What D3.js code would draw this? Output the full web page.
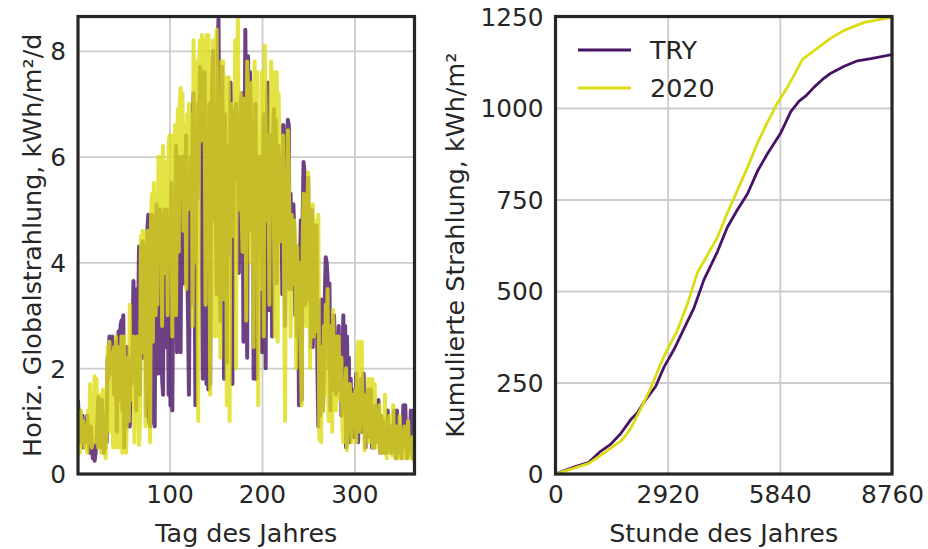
<!DOCTYPE html>
<html><head><meta charset="utf-8">
<script src="https://cdn.jsdelivr.net/npm/d3@7"></script>
<style>html,body{margin:0;padding:0;background:#fff;} svg{display:block;font-family:"DejaVu Sans",sans-serif;}</style>
</head><body><svg id="chart" width="928" height="549"></svg>
<script>
// ---- data ----
const seriesNames = ["TRY", "2020"];
const dailyTRY = [
1.4,0.9,1.2,0.6,0.8,1.1,0.5,1.0,0.7,0.6,
1.1,0.8,0.5,0.4,0.9,0.6,0.3,0.5,0.25,0.4,
0.6,1.0,1.45,1.2,0.5,0.8,1.4,0.9,0.4,0.5,
1.1,0.6,2.2,1.8,2.6,2.5,1.9,2.6,2.4,1.5,
2.5,2.0,0.8,2.5,2.7,1.4,2.8,2.9,1.2,3.0,
0.5,1.8,1.2,2.4,0.9,1.6,0.9,2.2,1.7,2.6,
3.65,2.0,3.4,1.2,3.5,2.8,4.3,1.5,3.9,4.3,
4.4,2.2,4.3,3.0,1.1,4.6,4.9,1.0,0.9,4.2,
4.9,3.8,1.0,0.9,4.5,5.1,2.2,1.9,4.6,5.0,
3.4,1.8,1.5,4.8,5.0,2.4,5.0,4.2,1.5,4.6,
1.3,5.5,1.2,3.8,5.2,3.9,6.2,2.3,5.8,6.0,
4.5,2.3,5.5,6.0,4.6,3.6,5.4,6.4,4.3,3.0,
1.5,4.3,6.0,3.2,6.8,7.2,4.4,1.3,6.0,5.2,
7.0,6.5,7.7,7.6,4.1,1.8,7.2,7.6,5.5,1.7,
6.3,1.6,7.0,1.7,5.9,7.3,8.0,4.8,6.9,5.0,
3.4,8.0,8.6,4.9,2.9,6.6,7.7,5.2,1.8,6.8,
5.5,2.1,6.2,5.5,4.2,7.4,6.0,1.7,4.4,6.9,
5.6,7.0,5.7,6.5,3.8,5.8,7.0,7.2,6.1,2.5,
5.0,8.4,6.1,2.2,7.9,4.6,7.6,6.8,4.6,5.9,
1.8,6.2,7.0,1.8,5.5,6.0,4.2,6.0,5.0,2.3,
5.7,6.8,5.7,2.0,6.5,7.4,5.2,3.1,6.4,5.5,
2.6,6.3,6.9,4.8,6.7,3.6,5.5,6.2,4.4,6.0,
5.5,3.4,6.6,4.9,2.8,5.8,6.3,6.7,6.6,3.5,
5.3,3.5,4.5,5.1,4.5,3.0,4.3,2.6,4.3,1.3,
3.6,4.8,1.4,4.8,5.9,5.7,3.2,5.6,4.9,5.6,
3.3,4.6,2.4,5.0,2.4,4.2,4.7,3.1,4.7,2.0,
0.9,2.6,1.1,3.3,2.6,1.2,2.0,3.4,4.1,4.0,
3.7,2.0,3.6,1.2,2.3,2.9,1.6,3.0,2.1,1.5,
2.5,1.8,2.8,1.6,2.4,1.1,2.0,3.0,1.2,2.8,
0.5,2.6,1.4,2.2,0.6,1.8,1.0,1.5,0.7,1.6,
0.7,1.9,1.2,0.6,1.5,1.0,1.8,0.8,1.2,1.9,
0.9,0.5,1.4,1.0,1.6,0.7,1.2,1.6,0.5,1.1,
0.5,0.9,1.3,0.6,1.0,1.4,0.8,0.4,1.1,0.6,
1.0,0.4,0.8,0.5,0.4,1.2,0.7,0.5,0.9,0.4,
0.8,0.6,1.2,0.5,0.3,1.2,0.7,0.4,0.9,0.6,
0.3,0.8,1.3,0.5,1.3,0.7,0.3,0.6,1.0,0.4,
1.2,0.5,0.3,1.2,0.5];
const daily2020 = [
0.5,0.9,0.4,1.2,0.8,0.6,1.0,0.5,0.9,0.7,
0.4,1.2,0.6,1.7,0.9,0.5,1.3,0.7,1.85,0.6,
1.8,0.8,0.5,1.2,1.5,0.4,0.9,1.6,0.6,0.4,
0.3,1.0,2.4,1.2,2.5,0.8,2.3,1.5,0.5,2.4,
1.1,2.6,0.5,1.8,2.4,0.5,1.6,2.6,0.4,1.9,
2.6,0.6,0.4,1.3,2.2,1.0,3.2,1.4,2.5,1.4,
2.6,0.6,2.0,1.2,2.6,2.4,0.55,1.0,4.5,2.3,
4.6,3.0,4.5,0.9,3.9,4.6,4.2,2.9,0.6,4.8,
5.3,2.5,5.5,4.5,3.0,5.3,3.2,6.0,5.9,4.1,
6.0,2.8,6.2,4.6,5.9,3.8,5.9,3.0,6.2,6.4,
5.2,6.4,2.6,6.3,4.0,6.6,3.0,5.5,6.9,4.2,
7.0,7.3,5.6,7.2,4.6,6.0,6.6,3.5,6.8,5.0,
7.0,5.4,6.8,6.6,2.8,8.2,6.2,4.0,7.8,6.5,
1.0,7.8,8.2,6.3,8.3,7.0,8.2,7.0,3.2,8.3,
6.0,8.3,6.1,1.5,7.7,4.0,8.2,7.6,2.6,8.1,
8.4,6.0,2.6,7.0,2.2,7.8,5.6,7.8,3.3,7.5,
6.8,1.3,5.2,7.5,1.0,6.3,4.5,7.0,4.5,5.4,
8.2,2.0,7.5,8.6,5.0,6.3,7.2,5.0,4.2,6.6,
7.1,6.0,2.9,7.8,7.2,5.3,6.0,4.0,7.4,6.0,
2.4,7.8,6.5,5.6,7.6,1.3,6.4,5.5,3.5,7.6,
7.2,2.6,8.1,7.0,4.8,6.4,5.8,3.2,6.5,7.8,
5.5,7.6,4.6,2.6,6.8,7.6,2.5,7.2,6.0,4.4,
4.8,5.9,6.4,3.4,1.0,5.1,4.4,6.5,5.8,4.0,
2.6,4.9,4.4,3.6,4.8,4.5,2.0,4.3,3.1,4.0,
3.5,2.4,1.3,4.3,5.3,5.2,4.0,2.8,5.0,5.7,
4.6,2.0,3.8,4.4,5.1,2.6,4.2,3.4,4.8,2.7,
4.9,0.65,1.5,0.6,2.4,1.2,2.8,1.5,3.2,2.0,
3.5,1.0,2.3,1.6,2.8,0.8,3.1,1.6,2.0,1.2,
2.6,1.9,2.6,1.4,2.0,2.2,0.9,0.6,1.6,1.2,
2.0,0.45,1.4,0.8,1.7,1.3,0.6,1.5,1.1,0.9,
1.6,0.6,2.3,2.5,1.2,0.8,1.9,2.5,1.0,1.5,
0.45,1.2,0.9,1.4,1.8,0.6,1.1,0.7,1.8,0.5,
1.0,1.7,0.5,1.2,0.6,0.9,1.3,0.4,0.8,0.6,
1.1,0.4,1.5,0.6,0.3,0.9,0.5,1.1,0.4,0.7,
0.35,1.3,0.6,0.3,0.9,0.5,0.8,0.3,1.1,0.5,
0.3,0.7,0.4,0.9,0.3,0.6,0.3,1.0,0.4,0.6,
0.3,0.5,0.7,0.25,0.5];
// cumulative radiation (kWh/m²) read at hours of the year
const cumHoursTRY = [0,478,869,1173,1433,1694,1955,2128,2302,2606,2824,3084,3345,3606,3866,4214,4474,4735,4996,5256,5517,5864,6125,6342,6516,6733,6950,7168,7515,7863,8210,8760];
const cumTRY      = [0,19,32,62,81,110,148,167,196,239,292,340,397,454,531,607,674,722,765,827,875,932,990,1019,1033,1057,1078,1095,1114,1129,1135,1146];
const cumHours2020 = [0,304,869,1260,1738,1955,2215,2476,2737,2911,3171,3432,3693,3953,4214,4474,4735,4996,5256,5517,5778,6038,6212,6429,6733,7168,7515,8036,8760];
const cum2020      = [0,10,29,57,93,124,177,234,301,340,392,464,550,598,646,713,775,837,904,961,1014,1057,1090,1133,1157,1191,1212,1234,1248];
const dayTicks = [100, 200, 300];
const dailyTicks = [0, 2, 4, 6, 8];
const hourTicks = [0, 2920, 5840, 8760];
const cumTicks = [0, 250, 500, 750, 1000, 1250];

// ---- styles ----
const colors = {"TRY": "#471365", "2020": "#dcdc14"};
const FS = 24.8, FL = 25.4, TXT = "#262626", GRID = "#cccccc";

const svg = d3.select("#chart");

function panel(x, y, xTicks, yTicks, xLabel, yLabel, yLabelX, id) {
  const g = svg.append("g");
  const [x0, x1] = x.range(), [y0, y1] = y.range();
  // grid
  g.append("g").attr("transform", `translate(0,${y0})`)
    .call(d3.axisBottom(x).tickValues(xTicks).tickSize(-(y0 - y1)).tickFormat(""))
    .call(a => a.select(".domain").remove())
    .selectAll("line").attr("stroke", GRID).attr("stroke-width", 1.8);
  g.append("g").attr("transform", `translate(${x0},0)`)
    .call(d3.axisLeft(y).tickValues(yTicks).tickSize(-(x1 - x0)).tickFormat(""))
    .call(a => a.select(".domain").remove())
    .selectAll("line").attr("stroke", GRID).attr("stroke-width", 1.8);
  // clip
  svg.append("clipPath").attr("id", id).append("rect")
    .attr("x", x0).attr("y", y1).attr("width", x1 - x0).attr("height", y0 - y1);
  const plot = g.append("g").attr("clip-path", `url(#${id})`);
  // tick labels
  const xa = g.append("g").attr("transform", `translate(0,${y0})`)
    .call(d3.axisBottom(x).tickValues(xTicks).tickSize(0).tickPadding(11).tickFormat(d3.format("d")));
  xa.select(".domain").remove();
  xa.selectAll("text").attr("font-size", FS).attr("fill", TXT).attr("font-family", "DejaVu Sans");
  const ya = g.append("g").attr("transform", `translate(${x0},0)`)
    .call(d3.axisLeft(y).tickValues(yTicks).tickSize(0).tickPadding(12).tickFormat(d3.format("d")));
  ya.select(".domain").remove();
  ya.selectAll("text").attr("font-size", FS).attr("fill", TXT).attr("font-family", "DejaVu Sans").attr("dy", "0.36em");
  // axis titles
  g.append("text").attr("x", (x0 + x1) / 2).attr("y", 542).attr("text-anchor", "middle")
    .attr("font-size", FL).attr("fill", TXT).text(xLabel);
  g.append("text").attr("transform", `translate(${yLabelX},${(y0 + y1) / 2}) rotate(-90)`)
    .attr("text-anchor", "middle").attr("font-size", FL).attr("fill", TXT).text(yLabel);
  return {g, plot, x0, x1, y0, y1};
}

// left panel
const xL = d3.scaleLinear().domain([1, 365]).range([78, 414.5]);
const yL = d3.scaleLinear().domain([0, 8.65]).range([474, 16.5]);
const pL = panel(xL, yL, dayTicks, dailyTicks, "Tag des Jahres", "Horiz. Globalstrahlung, kWh/m²/d", 41, "clipL");
const lineL = d3.line().x((d, i) => xL(i + 1)).y(d => yL(d));
[["TRY", dailyTRY], ["2020", daily2020]].forEach(([name, vals]) => {
  pL.plot.append("path").datum(vals).attr("d", lineL)
    .attr("fill", "none").attr("stroke", colors[name]).attr("stroke-width", 4)
    .attr("stroke-opacity", 0.8).attr("stroke-linejoin", "round");
});

// right panel
const xR = d3.scaleLinear().domain([0, 8760]).range([555.5, 892]);
const yR = d3.scaleLinear().domain([0, 1250]).range([474, 16.5]);
const pR = panel(xR, yR, hourTicks, cumTicks, "Stunde des Jahres", "Kumulierte Strahlung, kWh/m²", 464, "clipR");
const cumData = {"TRY": [cumHoursTRY, cumTRY], "2020": [cumHours2020, cum2020]};
seriesNames.forEach(name => {
  const [hrs, vals] = cumData[name];
  const pts = hrs.map((h, i) => [h, vals[i]]);
  pR.plot.append("path").datum(pts)
    .attr("d", d3.line().x(d => xR(d[0])).y(d => yR(d[1])))
    .attr("fill", "none").attr("stroke", colors[name]).attr("stroke-width", 2.8)
    .attr("stroke-linejoin", "round");
});

// legend
const leg = pR.g.append("g");
seriesNames.forEach((name, i) => {
  const yy = 50 + i * 38;
  leg.append("line").attr("x1", 578).attr("x2", 631).attr("y1", yy).attr("y2", yy)
    .attr("stroke", colors[name]).attr("stroke-width", 3);
  leg.append("text").attr("x", 650).attr("y", yy).attr("dy", "0.36em")
    .attr("font-size", FL).attr("fill", TXT).text(name);
});

// frames (spines)
[pL, pR].forEach(p => {
  p.g.append("rect").attr("x", p.x0).attr("y", p.y1).attr("width", p.x1 - p.x0).attr("height", p.y0 - p.y1)
    .attr("fill", "none").attr("stroke", "#262626").attr("stroke-width", 3.2);
});
</script></body></html>
